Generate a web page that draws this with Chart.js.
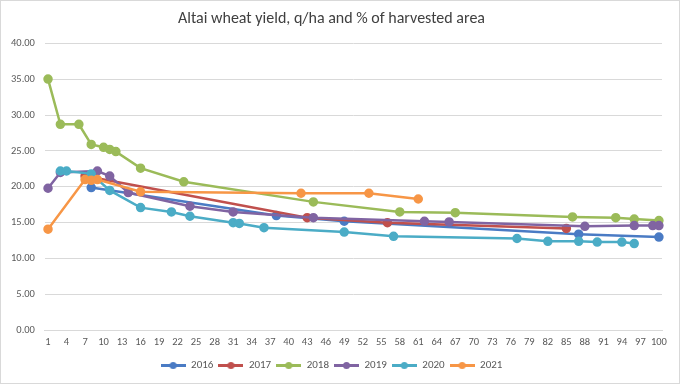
<!DOCTYPE html>
<html>
<head>
<meta charset="utf-8">
<script src="https://cdn.jsdelivr.net/npm/chart.js@4.4.1/dist/chart.umd.min.js"></script>
<style>
	html, body { margin: 0; padding: 0; background: #fff; }
	#wrap { position: relative; width: 678px; height: 382px; border: 1px solid #d9d9d9; }
</style>
</head>
<body>
<div id="wrap"><canvas id="grafico"></canvas></div>
<script>
// categorias do eixo X: 1..100
var categorias = [];
for (var i = 1; i <= 100; i++) categorias.push(i);

// pontos: posição na categoria e rendimento (q/ha)
var x2016 = [8, 38, 49, 87, 100];
var y2016 = [19.9, 16.0, 15.2, 13.4, 13.0];

var x2017 = [7, 43, 56, 85];
var y2017 = [21.5, 15.7, 15.0, 14.2];

var x2018 = [1, 3, 6, 8, 10, 11, 12, 16, 23, 44, 58, 67, 86, 93, 96, 100];
var y2018 = [35.0, 28.7, 28.7, 25.9, 25.5, 25.2, 24.9, 22.6, 20.7, 17.9, 16.5, 16.4, 15.8, 15.7, 15.5, 15.3];

var x2019 = [1, 3, 9, 11, 14, 24, 31, 44, 62, 66, 88, 96, 99, 100];
var y2019 = [19.8, 22.0, 22.2, 21.5, 19.2, 17.3, 16.5, 15.7, 15.2, 15.1, 14.5, 14.6, 14.6, 14.6];

var x2020 = [3, 4, 8, 11, 16, 21, 24, 31, 32, 36, 49, 57, 77, 82, 87, 90, 94, 96];
var y2020 = [22.2, 22.2, 21.8, 19.5, 17.1, 16.5, 15.9, 15.0, 14.9, 14.3, 13.7, 13.1, 12.8, 12.4, 12.4, 12.3, 12.3, 12.1];

var x2021 = [1, 7, 8, 9, 16, 42, 53, 61];
var y2021 = [14.1, 21.0, 20.9, 21.0, 19.3, 19.1, 19.1, 18.3];

var anos = ['2016', '2017', '2018', '2019', '2020', '2021'];
var cores = ['#4a7bc4', '#c0504d', '#9bbb59', '#8064a2', '#4bacc6', '#f79646'];

var ticksY = [0, 5, 10, 15, 20, 25, 30, 35, 40];

function pontos(xs, ys) {
	return xs.map(function(x, k) { return { x: x, y: ys[k] }; });
}

// ícone da legenda: linha com marcador
function iconeLegenda(cor) {
	var c = document.createElement('canvas');
	c.width = 25; c.height = 9;
	var ctx = c.getContext('2d');
	ctx.strokeStyle = cor;
	ctx.lineWidth = 3;
	ctx.beginPath();
	ctx.moveTo(0, 4.5);
	ctx.lineTo(25, 4.5);
	ctx.stroke();
	ctx.fillStyle = cor;
	ctx.beginPath();
	ctx.arc(12.5, 4.5, 3.5, 0, Math.PI * 2);
	ctx.fill();
	return c;
}

var series = [
	pontos(x2016, y2016), pontos(x2017, y2017), pontos(x2018, y2018),
	pontos(x2019, y2019), pontos(x2020, y2020), pontos(x2021, y2021)
];

var datasets = series.map(function(dados, k) {
	return {
		label: anos[k],
		data: dados,
		borderColor: cores[k],
		backgroundColor: cores[k],
		pointBackgroundColor: cores[k],
		pointBorderColor: cores[k],
		borderWidth: 2.5,
		pointRadius: 3.5,
		pointHoverRadius: 3.5,
		tension: 0,
		order: anos.length - k,
		icone: iconeLegenda(cores[k])
	};
});

var fonte = "Carlito, Lato, 'Open Sans', sans-serif";

new Chart(document.getElementById('grafico').getContext('2d'), {
	type: 'line',
	data: { labels: categorias, datasets: datasets },
	options: {
		responsive: true,
		maintainAspectRatio: false,
		animation: false,
		layout: { padding: { left: 0, right: 17, top: 4, bottom: 2 } },
		plugins: {
			title: {
				display: true,
				text: 'Altai wheat yield, q/ha and % of harvested area',
				color: '#404040',
				font: { family: fonte, size: 16, weight: 'normal' },
				padding: { top: 4, bottom: 15 }
			},
			legend: {
				position: 'bottom',
				labels: {
					usePointStyle: true,
					pointStyleWidth: 25,
					color: '#595959',
					font: { family: fonte, size: 11 },
					padding: 5,
					generateLabels: function(chart) {
						return chart.data.datasets.map(function(ds, k) {
							return {
								text: ds.label,
								fillStyle: ds.borderColor,
								strokeStyle: ds.borderColor,
								lineWidth: 0,
								pointStyle: ds.icone,
								fontColor: '#595959',
								hidden: false,
								datasetIndex: k
							};
						});
					}
				}
			},
			tooltip: { enabled: false }
		},
		scales: {
			x: {
				type: 'category',
				offset: true,
				grid: { display: false, drawTicks: false },
				border: { color: '#d9d9d9' },
				ticks: {
					autoSkip: false,
					maxRotation: 0,
					color: '#595959',
					font: { family: fonte, size: 10.5 },
					padding: 6,
					callback: function(valor, indice) {
						return indice % 3 === 0 ? String(categorias[indice]) : '';
					}
				}
			},
			y: {
				min: ticksY[0],
				max: ticksY[ticksY.length - 1],
				afterBuildTicks: function(eixo) {
					eixo.ticks = ticksY.map(function(v) { return { value: v }; });
				},
				grid: { color: '#d9d9d9', drawTicks: false },
				border: { display: false },
				ticks: {
					color: '#595959',
					font: { family: fonte, size: 10.5 },
					padding: 10,
					callback: function(valor) { return valor.toFixed(2); }
				}
			}
		}
	}
});
</script>
</body>
</html>
